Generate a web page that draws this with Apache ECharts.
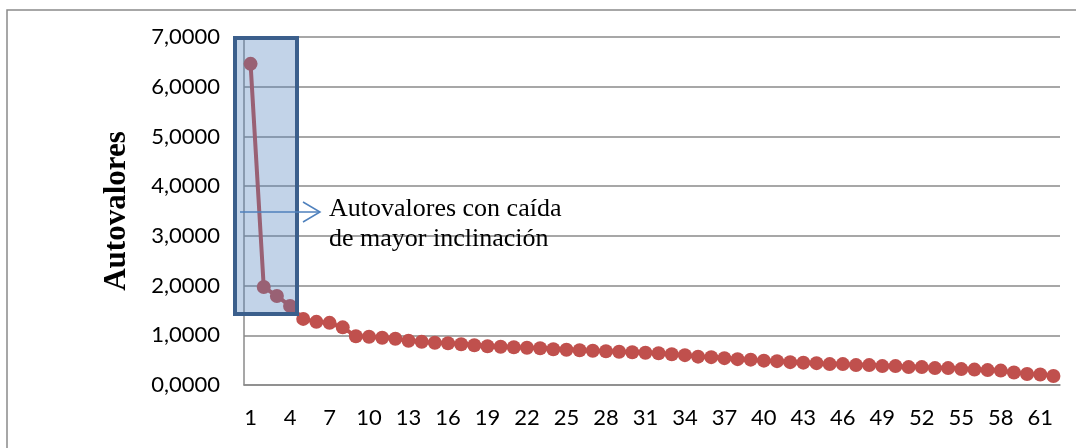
<!DOCTYPE html>
<html>
<head>
<meta charset="utf-8">
<script src="https://cdn.jsdelivr.net/npm/echarts@6/dist/echarts.min.js"></script>
<style>
  html, body { margin: 0; padding: 0; background: #fff; }
  #chart { width: 1076px; height: 448px; }
</style>
</head>
<body>
<div id="chart"></div>
<script>
// eigenvalues
const components = Array.from({ length: 62 }, (_, i) => String(i + 1));
const eigenvalues = [
  6.46, 1.97, 1.79, 1.59, 1.33, 1.27, 1.25, 1.16, 0.98, 0.97,
  0.95, 0.93, 0.89, 0.87, 0.85, 0.84, 0.82, 0.80, 0.78, 0.77,
  0.76, 0.75, 0.74, 0.72, 0.71, 0.70, 0.69, 0.68, 0.67, 0.66,
  0.65, 0.64, 0.62, 0.60, 0.57, 0.56, 0.54, 0.52, 0.51, 0.49,
  0.48, 0.46, 0.45, 0.44, 0.42, 0.42, 0.40, 0.40, 0.38, 0.38,
  0.36, 0.36, 0.34, 0.34, 0.32, 0.31, 0.30, 0.29, 0.25, 0.22,
  0.21, 0.18
];
const yTitle = 'Autovalores';
const noteLines = ['Autovalores con caída', 'de mayor inclinación'];

const gridColor = '#8a8a8a';
const chart = echarts.init(document.getElementById('chart'));

chart.setOption({
  animation: false,
  grid: { left: 244, right: 16, top: 37, bottom: 63 },
  xAxis: {
    type: 'category',
    data: components,
    boundaryGap: true,
    axisTick: { show: false },
    axisLine: { lineStyle: { color: gridColor, width: 1.5 } },
    axisLabel: {
      interval: 2,
      margin: 22,
      color: '#000',
      fontFamily: 'Lato',
      fontSize: 22
    }
  },
  yAxis: {
    type: 'value',
    min: 0,
    max: 7,
    interval: 1,
    name: yTitle,
    nameLocation: 'middle',
    nameGap: 112,
    nameTextStyle: {
      color: '#000',
      fontFamily: 'Liberation Serif',
      fontWeight: 'bold',
      fontSize: 31
    },
    axisLine: { show: true, lineStyle: { color: gridColor, width: 1.5 } },
    axisTick: { show: false },
    splitLine: { lineStyle: { color: gridColor, width: 1.5 } },
    axisLabel: {
      margin: 24,
      color: '#000',
      fontFamily: 'Lato',
      fontSize: 22,
      formatter: (v) => v.toFixed(4).replace('.', ',')
    }
  },
  series: [
    {
      type: 'line',
      data: eigenvalues,
      symbol: 'circle',
      symbolSize: 14,
      showAllSymbol: true,
      lineStyle: { color: '#c0504d', width: 4 },
      itemStyle: { color: '#c0504d' },
      z: 2
    }
  ],
  graphic: [
    {
      // outer chart frame
      type: 'rect',
      shape: { x: 7, y: 10, width: 1100, height: 460 },
      style: { fill: 'none', stroke: gridColor, lineWidth: 1.5 },
      z: 0
    },
    {
      // highlight box over the steep drop
      type: 'rect',
      shape: { x: 235, y: 38, width: 62, height: 276 },
      style: { fill: 'rgba(79,129,189,0.35)', stroke: '#3b5f8c', lineWidth: 4 },
      z: 100
    },
    {
      type: 'polyline',
      shape: { points: [[240, 212], [320, 212]] },
      style: { stroke: '#4f81bd', lineWidth: 1.5, fill: 'none' },
      z: 101
    },
    {
      type: 'polyline',
      shape: { points: [[303, 202], [320, 212], [303, 222]] },
      style: { stroke: '#4f81bd', lineWidth: 1.5, fill: 'none' },
      z: 101
    },
    {
      type: 'text',
      left: 329,
      top: 194,
      style: {
        text: noteLines.join('\n'),
        fill: '#000',
        font: '26px "Liberation Serif"',
        lineHeight: 30
      },
      z: 101
    }
  ]
});
</script>
</body>
</html>
